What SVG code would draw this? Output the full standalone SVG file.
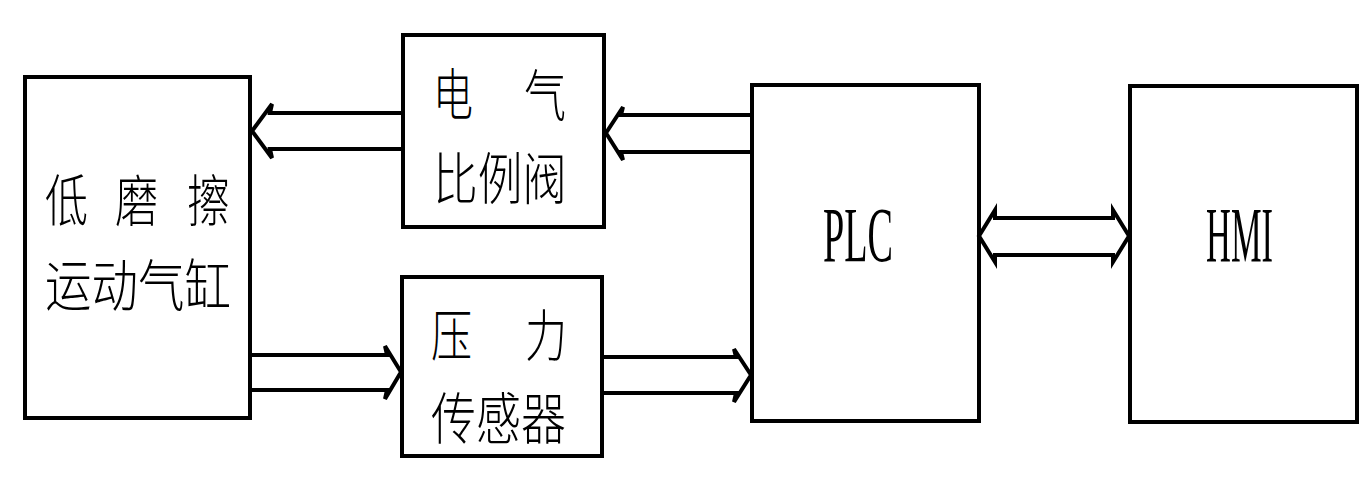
<svg xmlns="http://www.w3.org/2000/svg" width="1372" height="484" viewBox="0 0 1372 484">
<style>
.box{fill:#fff;stroke:#000;stroke-width:4}
.cn{font-family:"Noto Sans CJK SC","Noto Sans CJK JP",sans-serif;font-size:56px;font-weight:300;fill:#000}
.en{font-family:"Liberation Serif",serif;font-size:78px;fill:#000}
.arr{fill:none;stroke:#000;stroke-width:4;stroke-linejoin:miter}
</style>
<rect width="1372" height="484" fill="#fff"/>
<g id="cylinder">
<rect class="box" x="25" y="77" width="225" height="341"/>
<text class="cn" x="45" y="221" textLength="43" lengthAdjust="spacingAndGlyphs">低</text>
<text class="cn" x="115" y="221" textLength="43" lengthAdjust="spacingAndGlyphs">磨</text>
<text class="cn" x="187" y="221" textLength="43" lengthAdjust="spacingAndGlyphs">擦</text>
<text class="cn" x="45" y="306" textLength="186" lengthAdjust="spacingAndGlyphs">运动气缸</text>
</g>
<g id="valve">
<rect class="box" x="403" y="35" width="201" height="192"/>
<text class="cn" x="433" y="115" textLength="40" lengthAdjust="spacingAndGlyphs">电</text>
<text class="cn" x="524" y="116" textLength="42" lengthAdjust="spacingAndGlyphs">气</text>
<text class="cn" x="433" y="199" textLength="134" lengthAdjust="spacingAndGlyphs">比例阀</text>
</g>
<g id="sensor">
<rect class="box" x="402" y="277" width="200" height="179"/>
<text class="cn" x="431" y="356" textLength="41" lengthAdjust="spacingAndGlyphs">压</text>
<text class="cn" x="525" y="356" textLength="42" lengthAdjust="spacingAndGlyphs">力</text>
<text class="cn" x="431" y="439" textLength="135" lengthAdjust="spacingAndGlyphs">传感器</text>
</g>
<g id="plc">
<rect class="box" x="752" y="85" width="227" height="336"/>
<text class="en" x="823" y="261" textLength="70" lengthAdjust="spacingAndGlyphs">PLC</text>
</g>
<g id="hmi">
<rect class="box" x="1130" y="86" width="227" height="336"/>
<text class="en" x="1206" y="261" textLength="67" lengthAdjust="spacingAndGlyphs">HMI</text>
</g>
<g id="connectors">
<path class="arr" d="M403,113 L270,113 L272,104 L252,131 L272,158 L270,149 L403,149"/>
<path class="arr" d="M752,115 L621,115 L623,107 L606,133 L623,160 L621,152 L752,152"/>
<path class="arr" d="M250,355 L387,355 L385,346 L401,372 L385,399 L387,390 L250,390"/>
<path class="arr" d="M602,357 L736,357 L734,349 L751,375 L734,402 L736,393 L602,393"/>
<path class="arr" d="M995,218 L1113,218 L1113,210 L1129,236 L1113,262 L1113,255 L995,255 L995,262 L979,236 L995,210 Z"/>
</g>
</svg>
